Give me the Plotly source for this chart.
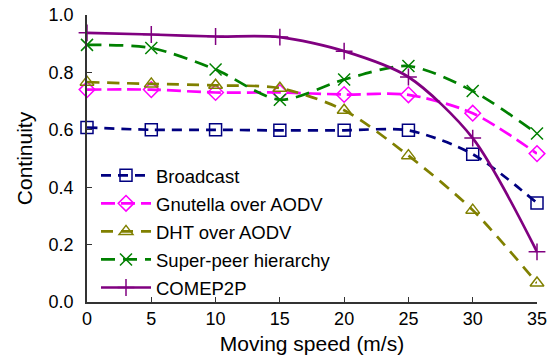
import plotly.graph_objects as go

speed = [0, 5, 10, 15, 20, 25, 30, 35]
broadcast = [0.608, 0.600, 0.600, 0.598, 0.598, 0.598, 0.515, 0.345]
gnutella = [0.740, 0.740, 0.730, 0.730, 0.723, 0.722, 0.658, 0.517]
dht = [0.766, 0.760, 0.755, 0.745, 0.668, 0.510, 0.320, 0.066]
superpeer = [0.896, 0.885, 0.810, 0.705, 0.775, 0.822, 0.735, 0.587]
comep2p = [0.938, 0.932, 0.925, 0.923, 0.874, 0.784, 0.571, 0.175]

series = [
    ("Broadcast", broadcast, "#000080", "square-open", "10px,7px"),
    ("Gnutella over AODV", gnutella, "#FF00FF", "diamond-open", "14px,6px"),
    ("DHT over AODV", dht, "#808000", "triangle-up-open", "12px,8px"),
    ("Super-peer hierarchy", superpeer, "#008000", "x-thin-open", "14px,8px"),
    ("COMEP2P", comep2p, "#800080", "cross-thin-open", "solid"),
]

fig = go.Figure()
for name, vals, color, sym, dash in series:
    fig.add_trace(go.Scatter(
        x=speed, y=vals, name=name, mode="lines+markers", legendgroup=name,
        line=dict(color=color, width=2.7, dash=dash, shape="spline", smoothing=0.8),
        marker=dict(symbol=sym, size=12, color=color, line=dict(color=color, width=1.5)),
        cliponaxis=False,
    ))

fig.update_layout(
    width=556, height=363,
    margin=dict(l=87, r=19, t=14.5, b=61, autoexpand=False),
    paper_bgcolor="white", plot_bgcolor="white",
    font=dict(family="Liberation Sans, Arial, sans-serif", size=18, color="black"),
    showlegend=True,
    legend=dict(x=0.02, y=0.506, xanchor="left", yanchor="top", tracegroupgap=1,
                itemwidth=50, bgcolor="rgba(0,0,0,0)", font=dict(size=18.5)),
)
fig.update_xaxes(
    range=[0, 35], tickvals=[0, 5, 10, 15, 20, 25, 30, 35],
    showgrid=False, zeroline=False, showline=True, linecolor="#333", linewidth=1.5,
    ticks="inside", ticklen=5, tickcolor="#333", ticklabeloverflow="allow",
    title=dict(text="Moving speed (m/s)", font=dict(size=21), standoff=8),
)
fig.update_yaxes(
    range=[0, 1.0], tickvals=[0, 0.2, 0.4, 0.6, 0.8, 1.0],
    ticktext=["0.0", "0.2", "0.4", "0.6", "0.8", "1.0"],
    showgrid=False, zeroline=False, showline=True, linecolor="#333", linewidth=1.5,
    ticks="inside", ticklen=5, tickcolor="#333", ticklabeloverflow="allow",
    ticklabelstandoff=8,
    title=dict(text="Continuity", font=dict(size=21), standoff=10),
)

fig.write_html("out.html", config={"displayModeBar": False},
               post_script="document.body.style.margin='0';")
